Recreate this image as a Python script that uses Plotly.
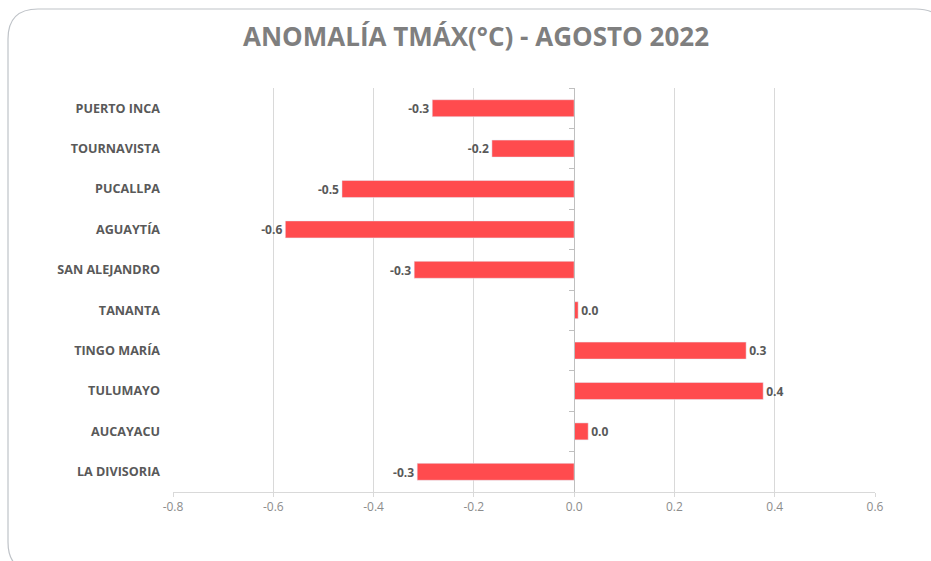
import plotly.graph_objects as go

estaciones = ["PUERTO INCA", "TOURNAVISTA", "PUCALLPA", "AGUAYTÍA", "SAN ALEJANDRO",
              "TANANTA", "TINGO MARÍA", "TULUMAYO", "AUCAYACU", "LA DIVISORIA"]
anomalia = [-0.283, -0.164, -0.463, -0.576, -0.319, 0.008, 0.343, 0.377, 0.028, -0.313]
x_ticks = [-0.8, -0.6, -0.4, -0.2, 0.0, 0.2, 0.4, 0.6]

W, H = 931, 561
L, R, T, B = 173, 56, 88, 69
pw, ph = W - L - R, H - T - B

def px2paper(x, y):
    return (x - L) / pw, (H - B - y) / ph

fig = go.Figure()
fig.add_trace(go.Bar(
    x=anomalia, y=estaciones, orientation="h",
    marker=dict(color="#FF4B4E", line=dict(width=0)),
    width=0.42,
    text=anomalia, texttemplate="%{x:.1f}", textposition="outside",
    textfont=dict(family="Open Sans", size=12.8, color="#595959", weight="bold"),
    cliponaxis=False, hoverinfo="x+y",
))
# invisible trace for the vertical axis crossing at zero (tick marks)
fig.add_trace(go.Bar(
    x=anomalia, y=estaciones, orientation="h", yaxis="y2",
    marker=dict(color="rgba(0,0,0,0)"), width=0.42, hoverinfo="skip", showlegend=False,
))

pos0 = (0.0 - (-0.8)) / (0.6 - (-0.8))

# rounded frame
fl, ft, fr, fb, rad = 8, 9, 946, 572, 30
def P(x, y):
    a, b = px2paper(x, y)
    return f"{a:.5f},{b:.5f}"
path = (f"M {P(fl, ft+rad)} Q {P(fl, ft)} {P(fl+rad, ft)} L {P(fr-rad, ft)} "
        f"Q {P(fr, ft)} {P(fr, ft+rad)} L {P(fr, fb-rad)} Q {P(fr, fb)} {P(fr-rad, fb)} "
        f"L {P(fl+rad, fb)} Q {P(fl, fb)} {P(fl, fb-rad)} Z")

fig.update_layout(
    width=W, height=H,
    margin=dict(l=L, r=R, t=T, b=B),
    paper_bgcolor="white", plot_bgcolor="white",
    showlegend=False,
    title=dict(text="<b>ANOMALÍA TMÁX(°C) - AGOSTO 2022</b>", x=476 / W, xanchor="center",
               y=1 - 37 / H, yanchor="middle",
               font=dict(family="Open Sans", size=26, color="#7F7F7F")),
    xaxis=dict(range=[-0.8, 0.6], tickvals=x_ticks, ticktext=[f"{v:.1f}" for v in x_ticks],
               showgrid=True, gridcolor="#D9D9D9", gridwidth=1,
               zeroline=True, zerolinecolor="#BFBFBF", zerolinewidth=1,
               showline=True, linecolor="#D9D9D9", ticks="outside", ticklen=4, tickcolor="#D9D9D9",
               tickfont=dict(family="Open Sans", size=12, color="#8C8C8C"), fixedrange=True),
    yaxis=dict(categoryorder="array", categoryarray=estaciones, autorange="reversed",
               showgrid=False, showline=False, ticks="",
               tickfont=dict(family="Open Sans", size=12.6, color="#595959", weight="bold"),
               ticklabelstandoff=12),
    yaxis2=dict(overlaying="y", matches="y", anchor="free", position=pos0, side="left",
                showticklabels=False, showgrid=False, showline=True, linecolor="#BFBFBF",
                ticks="outside", ticklen=5, tickcolor="#BFBFBF", tickson="boundaries",
                categoryorder="array", categoryarray=estaciones),
    shapes=[dict(type="path", xref="paper", yref="paper", path=path,
                 line=dict(color="#BFC3C8", width=1.2), fillcolor="rgba(0,0,0,0)", layer="below")],
)

fig.write_html("out.html", config={"displayModeBar": False},
               post_script="document.body.style.margin='0px';")
